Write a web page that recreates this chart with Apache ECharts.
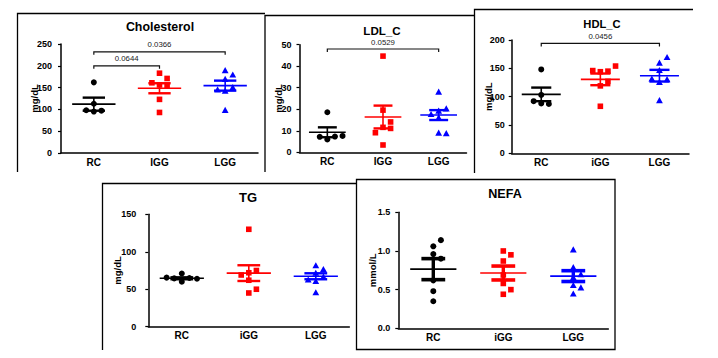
<!DOCTYPE html>
<html><head><meta charset="utf-8">
<script src="https://cdn.jsdelivr.net/npm/echarts@6/dist/echarts.min.js"></script>
<style>html,body{margin:0;padding:0;background:#fff}#c{width:718px;height:358px}</style>
</head><body><div id="c"></div>
<script>
// ---------- categories ----------
const catsUpper = ['RC', 'IGG', 'LGG'];
const catsLower = ['RC', 'iGG', 'LGG'];

// ---------- Cholesterol (mg/dL) ----------
const cholRC  = [162, 113, 95, 97, 98];
const cholIGG = [183, 156, 155, 161, 171, 123, 93];
const cholLGG = [190, 180, 170, 143, 151, 146, 99];
const cholMean = [112, 148.5, 154.5];
const cholSem  = [15, 11.5, 11.5];
const cholTicks = [0, 50, 100, 150, 200, 250];
const cholSigP = ['0.0644', '0.0366'];
const cholSigPairs = [[0, 1], [0, 2]];
const cholSigY = [200, 232];

// ---------- LDL_C (mg/dL) ----------
const ldlRC  = [18.6, 6.0, 7.3, 7.2, 7.6];
const ldlIGG = [44.7, 19.6, 11.6, 14.1, 11.1, 9.1, 3.4];
const ldlLGG = [28.2, 19.4, 20.4, 17.8, 16.2, 9.1, 8.9];
const ldlMean = [9.3, 16.4, 17.3];
const ldlSem  = [2.3, 5.3, 2.3];
const ldlTicks = [0, 10, 20, 30, 40, 50];
const ldlSigP = ['0.0529'];
const ldlSigPairs = [[0, 2]];
const ldlSigY = [48];

// ---------- HDL_C (mg/dL) ----------
const hdlRC  = [148, 103, 88, 87, 92];
const hdlIGG = [144, 145, 146, 154, 119, 127, 83];
const hdlLGG = [160, 170, 147, 126, 131, 132, 94];
const hdlMean = [104, 130.5, 137];
const hdlSem  = [12, 10.3, 10.3];
const hdlTicks = [0, 50, 100, 150, 200];
const hdlSigP = ['0.0456'];
const hdlSigPairs = [[0, 2]];
const hdlSigY = [194];

// ---------- TG (mg/dL) ----------
const tgRC  = [71, 65, 64.5, 64, 65.5, 60];
const tgIGG = [130, 72, 75, 69, 62, 45, 50];
const tgLGG = [82, 77, 72, 67, 61, 63, 46];
const tgMean = [64.6, 71.5, 67.3];
const tgSem  = [1.3, 10.5, 4];
const tgTicks = [0, 50, 100, 150];

// ---------- NEFA (mmol/L) ----------
const nefaRC  = [1.06, 1.14, 0.96, 0.90, 0.62, 0.48, 0.35];
const nefaIGG = [1.00, 0.95, 0.87, 0.69, 0.58, 0.50, 0.44];
const nefaLGG = [1.02, 0.79, 0.66, 0.70, 0.56, 0.53, 0.45];
const nefaMean = [0.765, 0.715, 0.675];
const nefaSem  = [0.136, 0.09, 0.07];
const nefaTicks = [0.0, 0.5, 1.0, 1.5];

// ---------- panel content ----------
const panels = [
  {title: 'Cholesterol', unit: 'mg/dL', cats: catsUpper, groups: [cholRC, cholIGG, cholLGG], mean: cholMean, sem: cholSem, ticks: cholTicks, sigP: cholSigP, sigPairs: cholSigPairs, sigY: cholSigY, dec: 0},
  {title: 'LDL_C', unit: 'mg/dL', cats: catsUpper, groups: [ldlRC, ldlIGG, ldlLGG], mean: ldlMean, sem: ldlSem, ticks: ldlTicks, sigP: ldlSigP, sigPairs: ldlSigPairs, sigY: ldlSigY, dec: 0},
  {title: 'HDL_C', unit: 'mg/dL', cats: catsLower, groups: [hdlRC, hdlIGG, hdlLGG], mean: hdlMean, sem: hdlSem, ticks: hdlTicks, sigP: hdlSigP, sigPairs: hdlSigPairs, sigY: hdlSigY, dec: 0},
  {title: 'TG', unit: 'mg/dL', cats: catsLower, groups: [tgRC, tgIGG, tgLGG], mean: tgMean, sem: tgSem, ticks: tgTicks, sigP: [], sigPairs: [], sigY: [], dec: 0},
  {title: 'NEFA', unit: 'mmol/L', cats: catsLower, groups: [nefaRC, nefaIGG, nefaLGG], mean: nefaMean, sem: nefaSem, ticks: nefaTicks, sigP: [], sigPairs: [], sigY: [], dec: 1}
];

// ---------- layout / style (not data) ----------
const layout = [
  {grid: {left: 61, top: 44, width: 197, height: 109}, titleXY: [160, 27], titleSize: 12.4, nameGap: 22, labelMargin: 9, capW: 2.4, barW: 1.6},
  {grid: {left: 299.5, top: 44.7, width: 167, height: 107.6}, titleXY: [382, 30], titleSize: 11.6, nameGap: 16, labelMargin: 8, capW: 2.4, barW: 1.6},
  {grid: {left: 511.7, top: 40, width: 177.3, height: 113.3}, titleXY: [602, 23.5], titleSize: 11.2, nameGap: 18, labelMargin: 7, capW: 2.4, barW: 1.6},
  {grid: {left: 148.3, top: 214.3, width: 201, height: 112.4}, titleXY: [248, 197], titleSize: 13, nameGap: 26, labelMargin: 12, capW: 2.4, barW: 1.6},
  {grid: {left: 398.3, top: 212.3, width: 210, height: 116}, titleXY: [505, 194], titleSize: 12.6, nameGap: 21, labelMargin: 8, capW: 3.6, barW: 3.4}
];
const groupColors = ['#000000', '#ff0000', '#0000ff'];
const groupSymbols = ['circle', 'rect', 'triangle'];
const groupSizes = [6, 5.6, [6.8, 6.2]];
const FONT = '"Liberation Sans", Arial, sans-serif';
const SPREAD = 7.6;   // px between side-by-side points
const OVERLAP = 6.3;  // px vertical distance treated as collision

// simple beeswarm: side-by-side slots for points that would overlap
function slotsFor(values, pxPerUnit) {
  const cand = [0, 1, -1, 2, -2, 3, -3, 4, -4];
  const placed = [];
  return values.map(v => {
    for (const s of cand) {
      const hit = placed.some(p => p.s === s && Math.abs(p.v - v) * pxPerUnit < OVERLAP);
      if (!hit) { placed.push({s, v}); return s; }
    }
    return 0;
  });
}

const grid = [], xAxis = [], yAxis = [], series = [], graphic = [];

panels.forEach((p, i) => {
  const L = layout[i];
  const tmin = p.ticks[0], tmax = p.ticks[p.ticks.length - 1];
  const pxPerUnit = L.grid.height / (tmax - tmin);
  grid.push(Object.assign({containLabel: false, outerBoundsMode: 'none'}, L.grid));
  xAxis.push({
    gridIndex: i, type: 'category', data: p.cats,
    axisLine: {lineStyle: {color: '#000', width: 1.5}},
    axisTick: {alignWithLabel: true, length: 3, lineStyle: {color: '#000', width: 1.2}},
    axisLabel: {fontWeight: 'bold', fontSize: 10, color: '#000', fontFamily: FONT, margin: 4},
    splitLine: {show: false}
  });
  yAxis.push({
    gridIndex: i, type: 'value', min: tmin, max: tmax, interval: p.ticks[1] - p.ticks[0],
    name: p.unit, nameLocation: 'middle', nameGap: L.nameGap, nameRotate: 90, nameMoveOverlap: false,
    nameTextStyle: {fontWeight: 'bold', fontSize: 9.5, color: '#000', fontFamily: FONT},
    axisLine: {show: true, lineStyle: {color: '#000', width: 1.5}},
    axisTick: {show: true, length: 3, lineStyle: {color: '#000', width: 1.2}},
    axisLabel: {fontWeight: 'bold', fontSize: 9, color: '#000', fontFamily: FONT, margin: L.labelMargin,
      formatter: v => v.toFixed(p.dec)},
    splitLine: {show: false}
  });
  // points
  p.groups.forEach((vals, g) => {
    const slots = slotsFor(vals, pxPerUnit);
    series.push({
      type: 'scatter', xAxisIndex: i, yAxisIndex: i, z: 2,
      symbol: groupSymbols[g], symbolSize: groupSizes[g],
      itemStyle: {color: groupColors[g], opacity: 1},
      emphasis: {disabled: true}, silent: true,
      data: vals.map((v, k) => ({value: [g, v], symbolOffset: [slots[k] * SPREAD, 0]}))
    });
  });
  // mean and SEM
  series.push({
    type: 'custom', xAxisIndex: i, yAxisIndex: i, z: 3, silent: true,
    encode: {x: 0, y: 1},
    data: p.mean.map((m, g) => [g, m, p.sem[g]]),
    renderItem: (params, api) => {
      const g = api.value(0), m = api.value(1), s = api.value(2);
      const c = api.coord([g, m]);
      const t = api.coord([g, m + s]);
      const b = api.coord([g, m - s]);
      const band = api.size([1, 0])[0];
      const col = groupColors[g];
      const mw = band * 0.33, cw = band * 0.17;
      return {type: 'group', children: [
        {type: 'line', shape: {x1: c[0] - mw, y1: c[1], x2: c[0] + mw, y2: c[1]}, style: {stroke: col, lineWidth: 1.6}},
        {type: 'line', shape: {x1: c[0], y1: t[1], x2: c[0], y2: b[1]}, style: {stroke: col, lineWidth: L.barW}},
        {type: 'line', shape: {x1: c[0] - cw, y1: t[1], x2: c[0] + cw, y2: t[1]}, style: {stroke: col, lineWidth: L.capW}},
        {type: 'line', shape: {x1: c[0] - cw, y1: b[1], x2: c[0] + cw, y2: b[1]}, style: {stroke: col, lineWidth: L.capW}}
      ]};
    }
  });
  // significance brackets
  if (p.sigP.length) {
    series.push({
      type: 'custom', xAxisIndex: i, yAxisIndex: i, z: 3, silent: true,
      encode: {x: [0, 1], y: 2},
      data: p.sigPairs.map((pr, k) => [pr[0], pr[1], p.sigY[k]]),
      renderItem: (params, api) => {
        const a = api.coord([api.value(0), api.value(2)]);
        const b = api.coord([api.value(1), api.value(2)]);
        const txt = p.sigP[params.dataIndex];
        return {type: 'group', children: [
          {type: 'polyline', shape: {points: [[a[0], a[1] + 3], [a[0], a[1]], [b[0], a[1]], [b[0], a[1] + 3]]},
            style: {stroke: '#111', lineWidth: 1.2, fill: null}},
          {type: 'text', x: (a[0] + b[0]) / 2, y: a[1] - 3,
            style: {text: txt, font: '7.8px ' + FONT, fill: '#222', textAlign: 'center', align: 'center',
              textVerticalAlign: 'bottom', verticalAlign: 'bottom'}}
        ]};
      }
    });
  }
  graphic.push({type: 'text', x: L.titleXY[0], y: L.titleXY[1], silent: true,
    style: {text: p.title, font: 'bold ' + L.titleSize + 'px ' + FONT, fill: '#000',
      textAlign: 'center', align: 'center', textVerticalAlign: 'middle', verticalAlign: 'middle'}});
});

// panel frames (cropped screenshot borders)
const frameStyle = {stroke: '#000', lineWidth: 1.3, fill: null};
graphic.push(
  {type: 'polyline', silent: true, shape: {points: [[17.5, 172], [17.5, 13.5], [265, 13.5]]}, style: frameStyle},
  {type: 'polyline', silent: true, shape: {points: [[265, 172], [265, 15.5], [474, 15.5]]}, style: frameStyle},
  {type: 'polyline', silent: true, shape: {points: [[474.5, 173], [474.5, 9.5], [693, 9.5]]}, style: frameStyle},
  {type: 'polyline', silent: true, shape: {points: [[102.5, 350], [102.5, 183.5], [357, 183.5]]}, style: frameStyle},
  {type: 'rect', silent: true, shape: {x: 356.5, y: 179.5, width: 258.5, height: 170}, style: frameStyle}
);

const chart = echarts.init(document.getElementById('c'), null, {renderer: 'svg'});
chart.setOption({
  animation: false,
  backgroundColor: '#ffffff',
  textStyle: {fontFamily: FONT},
  grid, xAxis, yAxis, series, graphic
});
</script>
</body></html>
